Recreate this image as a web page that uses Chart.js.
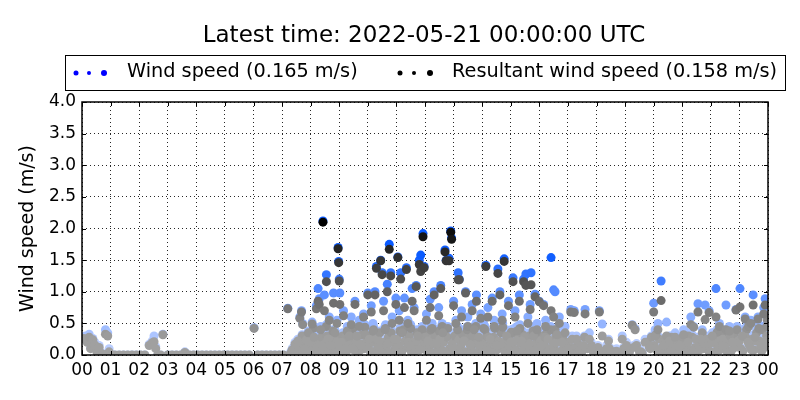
<!DOCTYPE html>
<html>
<head>
<meta charset="utf-8">
<script src="https://cdn.jsdelivr.net/npm/chart.js@4.4.1/dist/chart.umd.min.js"></script>
<style>
  html, body { margin: 0; padding: 0; background: #fff; }
</style>
</head>
<body>
<canvas id="chart" width="800" height="400"></canvas>
<script>
const titleText = 'Latest time: 2022-05-21 00:00:00 UTC'
const seriesNames = ['Wind speed (0.165 m/s)', 'Resultant wind speed (0.158 m/s)']
const yTitle = 'Wind speed (m/s)'
const hourLabels = ['00','01','02','03','04','05','06','07','08','09','10','11','12',
                    '13','14','15','16','17','18','19','20','21','22','23','00']

// hours since 00 UTC
const times = [
  0.05,0.12,0.18,0.25,0.30,0.38,0.45,0.52,0.55,0.60,0.65,0.70,0.75,0.82,0.90,0.95,
  1.00,1.15,1.30,1.45,1.60,1.75,1.90,2.05,2.20,
  2.35,2.45,2.52,2.58,2.65,2.75,2.83,
  3.00,3.15,3.30,3.45,3.60,3.75,3.90,
  4.05,4.20,4.35,4.50,4.65,4.80,4.95,
  5.10,5.25,5.40,5.55,5.70,5.85,
  6.02,6.15,6.30,6.45,6.60,6.75,6.90,7.05,
  7.40,7.50,7.58,7.66,7.75,7.83,7.90,7.97,
  8.02,8.08,8.15,8.22,8.28,8.38,8.45,8.52,8.58,8.68,8.75,8.82,8.88,8.95,
  9.05,9.12,9.18,9.25,9.32,9.38,9.45,9.52,9.58,9.65,9.72,9.80,9.88,9.95,
  10.02,10.08,10.15,10.22,10.28,10.35,10.42,10.48,10.58,10.65,10.72,10.78,10.88,10.95,
  11.02,11.08,11.12,11.22,11.30,11.38,11.45,11.52,11.58,11.65,11.72,11.78,11.88,11.95,
  12.02,12.08,12.15,12.22,12.28,12.35,12.42,12.50,12.58,12.65,12.78,12.86,12.95,
  13.04,13.12,13.18,13.25,13.32,13.40,13.46,13.55,13.62,13.70,13.76,13.84,13.92,
  14.00,14.08,14.16,14.24,14.32,14.40,14.46,14.58,14.66,14.74,14.82,14.88,14.96,
  15.04,15.12,15.18,15.26,15.34,15.42,15.50,15.56,15.64,15.74,15.78,15.88,15.96,
  16.04,16.12,16.18,16.26,16.35,16.45,16.52,16.58,16.66,16.75,16.85,16.95,
  17.05,17.15,17.25,17.35,17.48,17.68,17.82,17.95,
  18.05,18.25,18.42,18.60,18.80,18.95,19.15,19.40,19.60,19.78,19.92,
  20.02,20.10,20.20,20.30,20.40,20.50,20.60,20.70,20.82,20.95,
  21.00,21.10,21.25,21.35,21.45,21.50,21.60,21.70,21.75,21.85,21.90,
  22.00,22.10,22.15,22.25,22.35,22.45,22.50,22.60,22.70,22.80,22.85,22.95,
  23.05,23.15,23.25,23.35,23.45,23.52,23.60,23.70,23.80,23.88,23.95,
  7.52,7.70,7.88,
  8.10,8.25,8.40,8.55,8.62,8.78,8.90,
  9.10,9.22,9.40,9.48,9.60,9.75,9.90,
  10.10,10.20,10.32,10.40,10.52,10.62,10.70,10.82,10.90,
  11.00,11.18,11.25,11.42,11.50,11.60,11.70,11.82,11.90,
  12.00,12.12,12.20,12.30,12.45,12.52,12.60,12.72,12.80,12.98,
  13.02,13.14,13.22,13.38,13.48,13.60,13.68,13.78,13.90,
  14.02,14.10,14.22,14.30,14.44,14.52,14.64,14.72,14.80,14.94,
  15.02,15.10,15.20,15.32,15.40,15.48,15.58,15.66,15.82,15.90,
  16.02,16.10,16.20,16.32,16.40,16.48,16.60,16.72,16.82,16.92,
  17.12,17.32,17.58,17.85,
  18.15,18.45,18.75,19.00,19.30,19.55,19.88,
  20.08,20.22,20.38,20.52,20.62,20.78,20.88,
  21.02,21.15,21.22,21.38,21.48,21.62,21.78,21.95,
  22.02,22.12,22.22,22.32,22.42,22.58,22.68,22.78,22.92,
  23.00,23.12,23.22,23.32,23.42,23.58,23.68,23.78,23.92,23.98,
  7.20,7.30,7.35,7.45,7.55,7.62,7.68,7.72,7.80,7.85,7.92,
  8.00,8.05,8.12,8.20,8.26,8.30,8.35,8.43,8.48,8.55,8.60,8.65,8.72,8.80,8.85,8.92,8.96,8.98,
  9.00,9.02,9.08,9.15,9.20,9.28,9.35,9.42,9.50,9.55,9.62,9.70,9.78,9.85,9.92,
  10.00,10.05,10.12,10.18,10.25,10.30,10.38,10.45,10.50,10.55,10.60,10.68,10.75,10.80,10.85,10.92,10.98,
  11.05,11.10,11.15,11.20,11.28,11.35,11.40,11.48,11.55,11.62,11.69,11.75,11.80,11.85,11.93,11.97,
  12.05,12.10,12.18,12.25,12.32,12.40,12.48,12.55,12.62,12.70,12.74,12.84,12.90,12.93,
  13.00,13.08,13.16,13.20,13.28,13.35,13.42,13.50,13.58,13.65,13.72,13.80,13.88,13.95,
  14.05,14.13,14.20,14.28,14.35,14.42,14.50,14.55,14.62,14.70,14.77,14.85,14.92,
  15.00,15.08,15.15,15.22,15.30,15.38,15.45,15.53,15.60,15.68,15.71,15.80,15.85,15.92,
  16.00,16.08,16.15,16.22,16.30,16.41,16.50,16.55,16.62,16.70,16.80,16.90,
  17.00,17.10,17.22,17.30,17.40,17.55,17.60,17.75,17.90,
  18.10,18.20,18.35,18.50,18.70,18.90,19.05,19.25,19.35,19.50,19.70,19.85,
  20.00,20.05,20.15,20.26,20.35,20.45,20.55,20.65,20.75,20.90,
  21.05,21.20,21.30,21.40,21.55,21.65,21.80,21.94,
  22.05,22.18,22.30,22.40,22.53,22.65,22.75,22.88,
  23.02,23.10,23.20,23.30,23.40,23.48,23.55,23.65,23.75,23.85,23.90,23.96
]

const windSpeed = [
  .28,.30,.22,.33,.12,.26,.20,.08,0,.15,0,.03,0,.40,.35,.10,
  0,0,0,0,0,0,0,0,0,
  .17,.22,.30,.13,0,0,.33,
  0,0,0,0,.05,0,0,
  0,0,0,0,0,0,0,
  0,0,0,0,0,0,
  .43,0,0,0,0,0,0,0,
  .12,.05,.18,.08,.22,.12,.28,.15,
  .32,.20,.08,.25,.15,.30,.10,.22,.38,.12,.28,.18,.05,.30,
  .12,.35,.22,.08,.18,.40,.25,.15,.32,.05,.20,.38,.12,.28,
  .15,.35,.22,.08,.30,.18,.38,.10,.25,.15,.35,.05,.22,.12,
  .30,.20,.42,.10,.28,.15,.35,.08,.25,.18,.40,.12,.30,.20,
  .10,.38,.15,.28,.05,.35,.18,.42,.10,.25,.32,.15,.22,
  .35,.12,.28,.18,.40,.08,.25,.35,.15,.22,.05,.30,.12,
  .28,.18,.38,.10,.22,.32,.12,.25,.40,.15,.28,.08,.35,
  .18,.42,.10,.30,.20,.38,.12,.25,.35,.15,.45,.22,.30,
  .10,.38,.18,.42,.12,.28,.20,.35,.08,.30,.15,.25,
  .05,.30,.10,.22,.05,.12,.20,.08,
  .15,.05,.25,.08,.03,.12,.06,.18,.05,.22,.30,
  .18,.10,.28,.15,.05,.20,.12,.25,.08,.30,
  .12,.22,.10,.32,.15,.05,.25,.40,.12,.30,.18,
  .08,.35,.22,.12,.30,.40,.15,.25,.08,.38,.18,.28,
  .12,.35,.45,.18,.30,.10,.40,.28,.45,.15,.35,
  .10,.32,.05,
  .45,.05,.18,.48,.08,.40,.22,
  .05,.30,.12,.45,.22,.10,.48,
  .05,.45,.10,.25,.05,.48,.20,.40,.05,
  .12,.05,.45,.22,.48,.05,.25,.10,.45,
  .30,.05,.45,.20,.05,.30,.50,.08,.45,.05,
  .12,.45,.05,.25,.45,.05,.35,.50,.20,
  .05,.45,.30,.05,.45,.10,.20,.50,.05,.18,
  .40,.05,.25,.48,.08,.30,.05,.20,.08,.40,
  .25,.05,.30,.05,.45,.08,.22,.05,.35,.08,
  .15,.05,.30,.10,
  .08,.12,.05,.08,.15,.08,.12,
  .35,.05,.25,.08,.30,.15,.05,
  .30,.05,.35,.08,.28,.10,.22,.05,
  .25,.05,.40,.10,.28,.05,.35,.12,.45,
  .25,.08,.30,.50,.10,.25,.48,.08,.25,.60,
  .74,.05,.10,.20,.25,.60,.70,.50,.15,.30,.38,
  .10,.52,.35,.78,1.05,.89,.45,2.12,.95,1.27,.30,.60,.20,.98,.40,.55,1.70,1.48,
  1.20,.98,.25,.70,.15,.45,.32,.60,.10,.85,.35,.55,.22,.65,.40,
  .98,.30,.78,.50,1.00,1.40,.20,1.50,1.30,.85,.45,1.12,1.75,1.30,.60,.30,.90,
  1.55,.70,1.30,.40,.90,1.38,.55,.20,1.05,.75,1.10,.35,1.50,1.58,1.92,1.40,
  .65,.30,.88,.50,1.00,.25,.75,1.10,.40,1.66,1.50,1.53,1.96,1.85,
  .85,.55,1.30,1.20,.70,.30,1.00,.60,.20,.80,.45,.95,.35,.65,
  .50,1.42,.75,.30,.90,.55,.20,1.36,1.00,.65,1.52,.40,.85,
  .25,1.22,.70,.45,.95,.30,1.20,1.28,.60,.80,1.30,.35,.96,.50,
  .85,.20,.80,.55,.30,1.54,1.03,1.00,.40,.60,.25,.45,
  .15,.72,.70,.30,.10,.20,.72,.35,.05,
  .70,.49,.15,.05,.10,.30,.20,.48,.42,.10,.25,.15,
  .82,.40,.50,1.17,.20,.52,.30,.10,.35,.20,
  .40,.25,.60,.45,.81,.30,.79,.70,
  .35,1.05,.50,.20,.79,.45,.30,.72,
  1.05,.40,.60,.25,.55,.95,.35,.60,.20,.75,.89,.50
]

const resultantSpeed = [
  .26,.25,.20,.28,.10,.24,.16,.05,0,.12,0,.02,0,.33,.30,.05,
  0,0,0,0,0,0,0,0,0,
  .15,.19,.21,.10,0,0,.32,
  0,0,0,0,.04,0,0,
  0,0,0,0,0,0,0,
  0,0,0,0,0,0,
  .42,0,0,0,0,0,0,0,
  .08,.04,.15,.05,.20,.10,.24,.12,
  .25,.18,.05,.20,.12,.28,.08,.18,.30,.10,.25,.12,.04,.26,
  .10,.30,.18,.05,.15,.35,.22,.12,.28,.03,.18,.32,.10,.22,
  .12,.30,.20,.05,.25,.15,.35,.08,.20,.12,.28,.03,.20,.10,
  .25,.15,.38,.08,.22,.12,.30,.05,.20,.15,.35,.10,.25,.18,
  .08,.32,.12,.25,.03,.30,.15,.38,.08,.20,.28,.10,.18,
  .30,.10,.24,.15,.32,.05,.22,.30,.12,.18,.03,.25,.10,
  .22,.15,.30,.08,.20,.28,.10,.22,.35,.12,.22,.05,.30,
  .15,.35,.08,.25,.18,.32,.10,.20,.30,.12,.38,.18,.28,
  .08,.30,.15,.35,.10,.22,.15,.30,.05,.25,.12,.20,
  .03,.25,.08,.18,.04,.10,.15,.05,
  .12,.03,.22,.05,.02,.10,.04,.15,.03,.20,.28,
  .15,.08,.25,.12,.03,.15,.10,.22,.05,.25,
  .10,.18,.08,.28,.12,.03,.20,.35,.10,.25,.15,
  .05,.28,.18,.10,.25,.35,.12,.20,.05,.32,.15,.22,
  .10,.30,.40,.15,.25,.08,.35,.22,.40,.12,.30,
  .08,.30,.03,
  .42,.03,.15,.45,.05,.38,.20,
  .04,.28,.10,.42,.20,.08,.44,
  .04,.40,.08,.22,.03,.42,.18,.35,.04,
  .10,.04,.40,.20,.42,.03,.22,.08,.40,
  .28,.04,.40,.18,.04,.25,.45,.05,.42,.04,
  .10,.40,.03,.22,.40,.04,.30,.45,.18,
  .04,.40,.28,.03,.42,.08,.18,.44,.04,.15,
  .36,.04,.22,.42,.05,.28,.03,.18,.06,.36,
  .22,.03,.28,.04,.40,.06,.20,.04,.30,.06,
  .12,.04,.28,.08,
  .06,.10,.03,.06,.12,.05,.10,
  .32,.04,.22,.06,.28,.12,.04,
  .28,.04,.30,.06,.25,.08,.18,.04,
  .22,.04,.36,.08,.25,.04,.30,.10,.40,
  .22,.06,.28,.45,.08,.22,.42,.06,.22,.55,
  .73,.03,.08,.17,.22,.58,.68,.48,.10,.24,.35,
  .06,.49,.28,.73,.85,.80,.40,2.10,.70,1.16,.25,.55,.15,.82,.35,.50,1.68,1.46,
  1.17,.80,.20,.62,.10,.38,.30,.48,.08,.80,.30,.45,.15,.60,.32,
  .95,.25,.68,.38,.95,1.37,.12,1.49,1.27,.70,.40,1.00,1.67,1.25,.50,.25,.80,
  1.54,.55,1.20,.35,.75,1.35,.50,.15,.85,.70,1.08,.30,1.43,1.32,1.87,1.38,
  .55,.22,.75,.42,.95,.18,.62,1.05,.35,1.63,1.49,1.49,1.94,1.83,
  .78,.50,1.19,1.19,.60,.22,.98,.45,.16,.70,.40,.85,.28,.58,
  .42,1.40,.60,.25,.85,.45,.15,1.29,.95,.55,1.48,.30,.78,
  .20,1.16,.60,.38,.85,.22,1.16,1.10,.50,.72,1.11,.30,.92,.40,
  .84,.15,.78,.45,.25,.70,.60,.40,.32,.50,.20,.35,
  .10,.68,.67,.25,.08,.15,.65,.25,.03,
  .68,.30,.10,.02,.06,.25,.15,.47,.40,.05,.20,.12,
  .68,.30,.40,.86,.15,.30,.22,.05,.28,.15,
  .32,.20,.48,.44,.68,.25,.56,.67,
  .30,.60,.45,.15,.40,.38,.20,.71,
  .76,.30,.57,.20,.50,.79,.28,.57,.15,.65,.79,.45
]

const font = '"DejaVu Sans", "Bitstream Vera Sans", sans-serif'

// colour gets stronger with speed, grey when calm
function windColour(v) {
  const t = Math.max(0, Math.min(1, (v - 0.2) / 1.4))
  const r = Math.round(185 * (1 - t) + 10 * t)
  const g = Math.round(205 * (1 - t) + 90 * t)
  return `rgb(${r},${g},255)`
}
function resultantColour(v) {
  const t = Math.max(0, Math.min(1, (v - 0.25) / 1.85))
  const c = Math.round(160 * (1 - t))
  return `rgb(${c},${c},${c})`
}

const toPoints = vals => times.map((t, i) => ({x: t, y: vals[i]}))

// matplotlib-ish frame with inward ticks, title and boxed legend
const decorations = {
  id: 'decorations',
  afterDatasetsDraw(chart) {
    const {ctx, chartArea: a, scales} = chart
    ctx.save()
    ctx.strokeStyle = '#000'
    ctx.lineWidth = 1
    ctx.beginPath()
    scales.x.ticks.forEach(tk => {
      const x = Math.round(scales.x.getPixelForValue(tk.value)) + 0.5
      ctx.moveTo(x, a.bottom); ctx.lineTo(x, a.bottom - 4)
      ctx.moveTo(x, a.top); ctx.lineTo(x, a.top + 4)
    })
    scales.y.ticks.forEach(tk => {
      const y = Math.round(scales.y.getPixelForValue(tk.value)) + 0.5
      ctx.moveTo(a.left, y); ctx.lineTo(a.left + 4, y)
      ctx.moveTo(a.right, y); ctx.lineTo(a.right - 4, y)
    })
    ctx.stroke()
    ctx.lineWidth = 1.5
    ctx.strokeRect(Math.round(a.left), Math.round(a.top), Math.round(a.right - a.left), Math.round(a.bottom - a.top))
    ctx.restore()
  },
  afterDraw(chart) {
    const ctx = chart.ctx
    ctx.save()
    ctx.fillStyle = '#000'
    ctx.font = `23px ${font}`
    ctx.textAlign = 'center'
    ctx.textBaseline = 'alphabetic'
    ctx.fillText(titleText, 424, 42)

    ctx.strokeStyle = '#000'
    ctx.lineWidth = 1
    ctx.strokeRect(65.5, 55.5, 720, 35)
    const entries = [
      {dots: [76, 89, 104], colour: '#0000ff', textX: 127},
      {dots: [400, 414, 430], colour: '#000000', textX: 452}
    ]
    const radii = [2.5, 2, 3]
    entries.forEach((e, i) => {
      ctx.fillStyle = e.colour
      e.dots.forEach((dx, k) => {
        ctx.beginPath()
        ctx.arc(dx, 73, radii[k], 0, Math.PI * 2)
        ctx.fill()
      })
      ctx.fillStyle = '#000'
      ctx.font = `19.3px ${font}`
      ctx.textAlign = 'left'
      ctx.textBaseline = 'middle'
      ctx.fillText(seriesNames[i], e.textX, 72)
    })
    ctx.restore()
  }
}

Chart.defaults.color = '#000'
Chart.defaults.font.family = font

new Chart(document.getElementById('chart'), {
  type: 'scatter',
  data: {
    datasets: [
      {
        label: seriesNames[0],
        data: toPoints(windSpeed),
        order: 1,
        pointRadius: 4.5,
        pointBorderWidth: 0,
        backgroundColor: c => windColour(c.raw ? c.raw.y : 0)
      },
      {
        label: seriesNames[1],
        data: toPoints(resultantSpeed),
        order: 0,
        pointRadius: 4.5,
        pointBorderWidth: 0,
        backgroundColor: c => resultantColour(c.raw ? c.raw.y : 0)
      }
    ]
  },
  options: {
    responsive: false,
    animation: false,
    events: [],
    layout: {padding: {top: 102, right: 32, bottom: 0, left: 0}},
    plugins: {
      legend: {display: false},
      title: {display: false},
      tooltip: {enabled: false}
    },
    scales: {
      x: {
        type: 'linear',
        min: 0,
        max: 24,
        afterFit: s => { s.height = 45 },
        ticks: {
          stepSize: 1,
          autoSkip: false,
          maxRotation: 0,
          padding: 5,
          font: {size: 17},
          callback: v => hourLabels[v]
        },
        grid: {color: 'rgba(0,0,0,0.85)', lineWidth: 1, drawTicks: false},
        border: {display: false, dash: [1, 3]}
      },
      y: {
        min: 0,
        max: 4,
        afterFit: s => { s.width = 82 },
        ticks: {
          stepSize: 0.5,
          padding: 6,
          font: {size: 17},
          callback: v => v.toFixed(1)
        },
        title: {
          display: true,
          text: yTitle,
          font: {size: 19},
          padding: {top: 17, bottom: 0}
        },
        grid: {color: 'rgba(0,0,0,0.85)', lineWidth: 1, drawTicks: false},
        border: {display: false, dash: [1, 3]}
      }
    }
  },
  plugins: [decorations]
})
</script>
</body>
</html>
